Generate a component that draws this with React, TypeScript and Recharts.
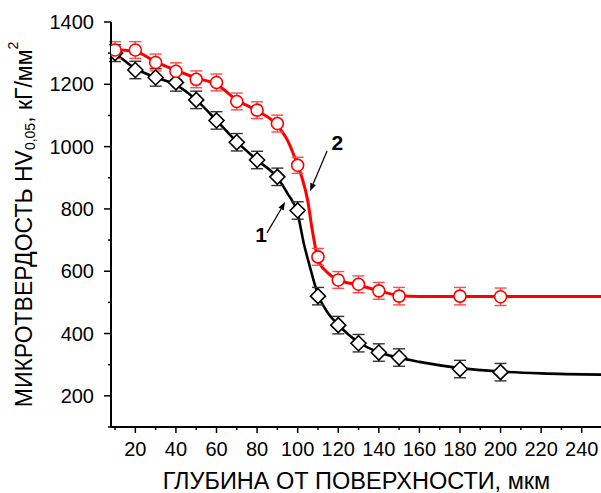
import React from 'react';
import { ComposedChart, Line, Scatter, XAxis, YAxis, ErrorBar, ReferenceLine, ReferenceDot } from 'recharts';

// measured points (depth, µm -> HV)
const depth = [10, 20, 30, 40, 50, 60, 70, 80, 90, 100, 110, 120, 130, 140, 150, 180, 200];
const hv2 = [1310, 1310, 1270, 1242, 1216, 1206, 1145, 1117, 1074, 940, 646, 572, 558, 537, 520, 520, 518];
const err2 = [27, 27, 27, 27, 27, 27, 27, 27, 27, 26, 27, 27, 27, 27, 28, 28, 28];
const hv1 = [1300, 1246, 1222, 1206, 1150, 1084, 1014, 957, 903, 795, 520, 427, 369, 339, 323, 286, 276];
const err1 = [27, 28, 28, 28, 28, 28, 28, 28, 28, 28, 28, 28, 28, 28, 28, 28, 28];

// fitted curves
const fitDepth2 = [8, 10, 20, 30, 40, 50, 60, 70, 80, 90, 95, 100, 102, 105, 107, 109, 111, 114, 120, 130, 140, 150, 160, 180, 200, 250];
const fitHv2 = [1312, 1311, 1305, 1272, 1245, 1220, 1200, 1150, 1115, 1068, 1020, 940, 903, 825, 740, 668, 625, 600, 572, 556, 537, 522, 519, 519, 519, 519];
const fitDepth1 = [8, 10, 20, 30, 40, 50, 60, 70, 80, 90, 95, 100, 103, 106, 110, 115, 120, 130, 140, 150, 160, 180, 200, 220, 250];
const fitHv1 = [1305, 1298, 1250, 1222, 1198, 1150, 1084, 1015, 957, 900, 850, 785, 690, 615, 525, 465, 428, 372, 340, 322, 309, 289, 278, 272, 268];

const xTicks = [10, 20, 30, 40, 50, 60, 70, 80, 90, 100, 110, 120, 130, 140, 150, 160, 170, 180, 190, 200, 210, 220, 230, 240, 250];
const yTicks = [100, 200, 300, 400, 500, 600, 700, 800, 900, 1000, 1100, 1200, 1300, 1400];

const pts2 = depth.map((x, i) => ({ x, y: hv2[i], e: err2[i] }));
const pts1 = depth.map((x, i) => ({ x, y: hv1[i], e: err1[i] }));
const fit2 = fitDepth2.map((x, i) => ({ x, y: fitHv2[i] }));
const fit1 = fitDepth1.map((x, i) => ({ x, y: fitHv1[i] }));

const FONT = '"Liberation Sans", Arial, sans-serif';

const LeftTick = ({ x, y, payload }: any) => {
  const major = payload.value % 200 === 0;
  return (
    <g>
      <line x1={x - (major ? 7 : 3)} x2={x} y1={y} y2={y} stroke="#000" strokeWidth={1.5} />
      {major && (
        <text x={x - 17} y={y + 7} textAnchor="end" fontSize={20} fontFamily={FONT} fill="#000">
          {payload.value}
        </text>
      )}
    </g>
  );
};

const BottomTick = ({ x, y, payload }: any) => {
  const major = payload.value % 20 === 0;
  return (
    <g>
      <line x1={x} x2={x} y1={y} y2={y + (major ? 6 : 3)} stroke="#000" strokeWidth={1.5} />
      {major && (
        <text x={x} y={y + 28.5} textAnchor="middle" fontSize={20} fontFamily={FONT} fill="#000">
          {payload.value}
        </text>
      )}
    </g>
  );
};

const TopTick = ({ x, y, payload }: any) => {
  const major = payload.value % 20 === 0;
  return <line x1={x} x2={x} y1={y} y2={y + (major ? 7 : 3)} stroke="#000" strokeWidth={1.5} />;
};

const RightTick = ({ x, y, payload }: any) => {
  const major = payload.value % 200 === 0;
  return <line x1={x - (major ? 6 : 3)} x2={x} y1={y} y2={y} stroke="#000" strokeWidth={1.5} />;
};

const YTitle = ({ viewBox }: any) => {
  const cy = viewBox ? viewBox.y + viewBox.height / 2 : 224;
  const bx = 32;
  return (
    <text x={bx} y={cy} transform={`rotate(-90 ${bx} ${cy})`} textAnchor="middle" fontSize={23} fontFamily={FONT} fill="#000">
      <tspan>МИКРОТВЕРДОСТЬ HV</tspan>
      <tspan fontSize={14} dy={3}>0,05</tspan>
      <tspan dy={-3}>, кГ/мм</tspan>
      <tspan fontSize={14} dy={-14}>2</tspan>
    </text>
  );
};

const Circle = ({ cx, cy }: any) => <circle cx={cx} cy={cy} r={6} fill="#fff" stroke="#ff0000" strokeWidth={1.6} />;

const Diamond = ({ cx, cy }: any) => (
  <path d={`M${cx},${cy - 7.5} L${cx + 7.5},${cy} L${cx},${cy + 7.5} L${cx - 7.5},${cy} Z`} fill="#fff" stroke="#000" strokeWidth={1.6} />
);

const Arrow = ({ x1, y1, x2, y2 }: any) => {
  const a = Math.atan2(y2 - y1, x2 - x1);
  const len = 8;
  const w = 3;
  const bx = x2 - len * Math.cos(a);
  const by = y2 - len * Math.sin(a);
  const px = -Math.sin(a) * w;
  const py = Math.cos(a) * w;
  return (
    <g>
      <line x1={x1} y1={y1} x2={bx} y2={by} stroke="#000" strokeWidth={1.2} />
      <path d={`M${x2},${y2} L${bx + px},${by + py} L${bx - px},${by - py} Z`} fill="#000" />
    </g>
  );
};

export default function App() {
  return (
    <div style={{ position: 'absolute', left: 0, top: 0, width: 601, height: 493, overflow: 'hidden', background: '#fff' }}>
      <ComposedChart width={603} height={493} margin={{ top: 22, right: 1, bottom: 0, left: 0 }}>
        <XAxis
          xAxisId="b"
          dataKey="x"
          type="number"
          domain={[8, 250]}
          allowDataOverflow
          ticks={xTicks}
          interval={0}
          tickSize={0}
          tickMargin={0}
          tickLine={false}
          tick={<BottomTick />}
          height={66}
          axisLine={{ stroke: '#000', strokeWidth: 2 }}
          label={{ value: 'ГЛУБИНА ОТ ПОВЕРХНОСТИ, мкм', position: 'insideBottom', offset: 4, fontSize: 23.5, fontFamily: FONT, fill: '#000' }}
        />
        <XAxis
          xAxisId="t"
          orientation="top"
          type="number"
          domain={[8, 250]}
          allowDataOverflow
          ticks={xTicks}
          interval={0}
          tickSize={0}
          tickMargin={0}
          tickLine={false}
          tick={<TopTick />}
          height={0}
          axisLine={{ stroke: '#000', strokeWidth: 2 }}
        />
        <YAxis
          yAxisId="l"
          dataKey="y"
          type="number"
          domain={[100, 1400]}
          allowDataOverflow
          ticks={yTicks}
          interval={0}
          tickSize={0}
          tickMargin={0}
          tickLine={false}
          tick={<LeftTick />}
          width={111}
          axisLine={{ stroke: '#000', strokeWidth: 2 }}
          label={<YTitle />}
        />
        <YAxis
          yAxisId="r"
          orientation="right"
          type="number"
          domain={[100, 1400]}
          allowDataOverflow
          ticks={yTicks}
          interval={0}
          tickSize={0}
          tickMargin={0}
          tickLine={false}
          tick={<RightTick />}
          width={0}
          axisLine={{ stroke: '#000', strokeWidth: 2 }}
        />

        <Line xAxisId="b" yAxisId="l" data={fit1} dataKey="y" type="monotone" stroke="#000" strokeWidth={2.6} dot={false} isAnimationActive={false} />
        <Line xAxisId="b" yAxisId="l" data={fit2} dataKey="y" type="monotone" stroke="#ff0000" strokeWidth={3} dot={false} isAnimationActive={false} />

        <Scatter xAxisId="b" yAxisId="l" data={pts1} dataKey="y" shape={<Diamond />} isAnimationActive={false}>
          <ErrorBar dataKey="e" direction="y" width={6} stroke="#333" strokeWidth={1.4} />
        </Scatter>
        <Scatter xAxisId="b" yAxisId="l" data={pts2} dataKey="y" shape={<Circle />} isAnimationActive={false}>
          <ErrorBar dataKey="e" direction="y" width={6} stroke="#ff4a4a" strokeWidth={1.4} />
        </Scatter>

        <ReferenceLine xAxisId="b" yAxisId="l" segment={[{ x: 84.9, y: 723 }, { x: 93.8, y: 822 }]} shape={<Arrow />} />
        <ReferenceLine xAxisId="b" yAxisId="l" segment={[{ x: 114.5, y: 986 }, { x: 106.1, y: 857 }]} shape={<Arrow />} />
        <ReferenceDot xAxisId="b" yAxisId="l" x={82} y={719} r={1} fill="none" stroke="none"
          label={{ value: '1', position: 'center', fontSize: 21, fontWeight: 'bold', fontFamily: FONT, fill: '#000' }} />
        <ReferenceDot xAxisId="b" yAxisId="l" x={119.6} y={1012} r={1} fill="none" stroke="none"
          label={{ value: '2', position: 'center', fontSize: 21, fontWeight: 'bold', fontFamily: FONT, fill: '#000' }} />
      </ComposedChart>
    </div>
  );
}
